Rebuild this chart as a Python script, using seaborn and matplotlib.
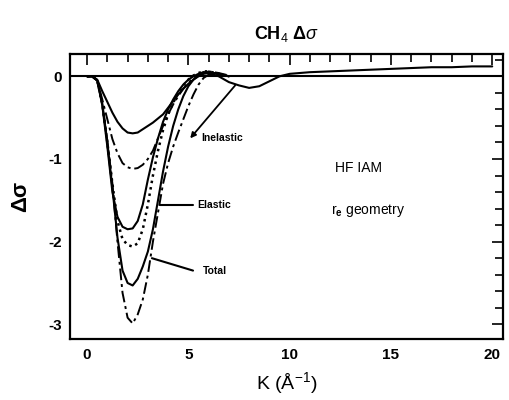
import matplotlib
matplotlib.use("Agg")
import matplotlib.pyplot as plt
import numpy as np
import pandas as pd
import seaborn as sns
from matplotlib.ticker import MultipleLocator

# ---- data ----
k_main = [0, 0.25, 0.5, 0.75, 1.0, 1.25, 1.5, 1.75, 2.0, 2.25, 2.5, 2.75, 3.0,
          3.25, 3.5, 3.75, 4.0, 4.25, 4.5, 4.75, 5.0, 5.25, 5.5, 5.75, 6.0, 6.5, 7.0]
k_tail = [7.5, 8, 8.5, 9, 9.5, 10, 11, 12, 13, 14, 15, 16, 17, 18, 19, 20]

inel_hf = [0, 0, -0.04, -0.18, -0.31, -0.44, -0.55, -0.63, -0.68, -0.69, -0.68, -0.64, -0.60,
           -0.56, -0.51, -0.46, -0.38, -0.30, -0.22, -0.15, -0.09, -0.04, 0.0, 0.03, 0.04, 0.0, -0.07]
inel_hf_tail = [-0.11, -0.14, -0.12, -0.06, 0.0, 0.03, 0.05, 0.06, 0.07, 0.08, 0.09, 0.10,
                0.11, 0.11, 0.12, 0.12]
inel_iam = [0, 0, -0.05, -0.28, -0.52, -0.76, -0.93, -1.05, -1.10, -1.12, -1.11, -1.07, -1.00,
            -0.90, -0.75, -0.60, -0.46, -0.34, -0.24, -0.15, -0.08, -0.02, 0.02, 0.05, 0.06, 0.04, 0.01]
elas_hf = [0, 0, -0.05, -0.35, -0.85, -1.40, -1.70, -1.82, -1.85, -1.84, -1.75, -1.55, -1.25,
           -0.98, -0.75, -0.55, -0.40, -0.28, -0.18, -0.10, -0.04, 0.0, 0.03, 0.05, 0.05, 0.03, 0.0]
elas_dot = [0, 0, -0.05, -0.33, -0.80, -1.30, -1.75, -1.97, -2.04, -2.06, -2.02, -1.85, -1.55,
            -1.20, -0.90, -0.65, -0.46, -0.32, -0.20, -0.11, -0.04, 0.01, 0.04, 0.06, 0.06, 0.03, 0.0]
total_hf = [0, 0, -0.05, -0.33, -0.80, -1.35, -1.95, -2.35, -2.50, -2.53, -2.45, -2.30, -2.12,
            -1.85, -1.50, -1.15, -0.85, -0.60, -0.40, -0.24, -0.12, -0.04, 0.01, 0.04, 0.05, 0.03, 0.0]
total_iam = [0, 0, -0.05, -0.33, -0.78, -1.30, -2.00, -2.62, -2.92, -2.99, -2.88, -2.70, -2.40,
             -2.00, -1.65, -1.30, -1.05, -0.85, -0.68, -0.52, -0.36, -0.22, -0.10, -0.02, 0.02, 0.03, 0.0]

x_ticks = [0, 5, 10, 15, 20]
y_ticks = [0, -1, -2, -3]

# ---- style ----
sns.set_theme(style="white")
plt.rcParams["font.family"] = ["Liberation Sans", "DejaVu Sans"]
plt.rcParams["mathtext.fontset"] = "custom"
plt.rcParams["mathtext.rm"] = "Liberation Sans"
plt.rcParams["mathtext.it"] = "Liberation Sans:italic"
plt.rcParams["mathtext.bf"] = "Liberation Sans:bold"
for key in ["text.color", "axes.labelcolor", "xtick.color", "ytick.color"]:
    plt.rcParams[key] = "black"

fig = plt.figure(figsize=(5.1, 4.0), dpi=100)
ax = fig.add_axes([0.137, 0.152, 0.850, 0.713])

dashdot = (0, (6, 2, 1.5, 2))
dotted = (0, (1, 1.6))

curves = [
    (k_main + k_tail, inel_hf + inel_hf_tail, "-", 1.5),
    (k_main, inel_iam, dashdot, 1.4),
    (k_main, elas_hf, "-", 1.5),
    (k_main, elas_dot, dotted, 1.8),
    (k_main, total_hf, "-", 1.5),
    (k_main, total_iam, dashdot, 1.4),
]
for kx, vy, ls, lw in curves:
    df = pd.DataFrame({"K": kx, "d": vy})
    sns.lineplot(data=df, x="K", y="d", ax=ax, color="black", linestyle=ls,
                 linewidth=lw, sort=False, estimator=None)

ax.axhline(0, color="black", lw=1.5)

ax.set_xlim(-0.85, 20.55)
ax.set_ylim(-3.18, 0.27)

ax.xaxis.set_minor_locator(MultipleLocator(1))
ax.yaxis.set_minor_locator(MultipleLocator(0.2))
ax.set_xticks(x_ticks)
ax.set_xticklabels([str(v) for v in x_ticks])
ax.set_yticks(y_ticks)
ax.set_yticklabels([str(v) for v in y_ticks])
ax.tick_params(which="both", direction="in", top=True, right=True, width=1.2,
               colors="black", labelsize=11)
ax.tick_params(which="major", length=8, pad=6)
ax.tick_params(which="minor", length=6)
for lab in ax.get_xticklabels() + ax.get_yticklabels():
    lab.set_fontweight("bold")
for sp in ax.spines.values():
    sp.set_color("black")
    sp.set_linewidth(1.6)

ax.set_xlabel("K (Å$^{-1}$)", fontsize=14, labelpad=6, color="black")
ax.set_ylabel("Δσ", fontsize=16, fontweight="bold", labelpad=12, color="black")
ax.set_title("CH$_4$ Δ$\\mathit{σ}$", fontsize=13, pad=11, color="black",
             fontweight="semibold")

# annotations
ax.annotate("", xy=(5.09, -0.75), xytext=(7.31, -0.11),
            arrowprops=dict(arrowstyle="-|>", color="black", lw=1.3,
                            mutation_scale=8, shrinkA=0, shrinkB=0))
ax.text(5.66, -0.75, "Inelastic", fontsize=7.5, fontweight="bold", va="center", ha="left")
ax.plot([3.6, 5.23], [-1.56, -1.56], color="black", lw=1.5)
ax.text(5.43, -1.56, "Elastic", fontsize=7.5, fontweight="bold", va="center", ha="left")
ax.plot([3.2, 5.23], [-2.2, -2.35], color="black", lw=1.5)
ax.text(5.73, -2.35, "Total", fontsize=7.5, fontweight="bold", va="center", ha="left")

ax.text(13.4, -1.11, "HF IAM", fontsize=10, ha="center", va="center")
ax.text(12.05, -1.62, "r$_\\mathbf{e}$ geometry", fontsize=10, ha="left", va="center")

fig.savefig("out.png", dpi=100)
